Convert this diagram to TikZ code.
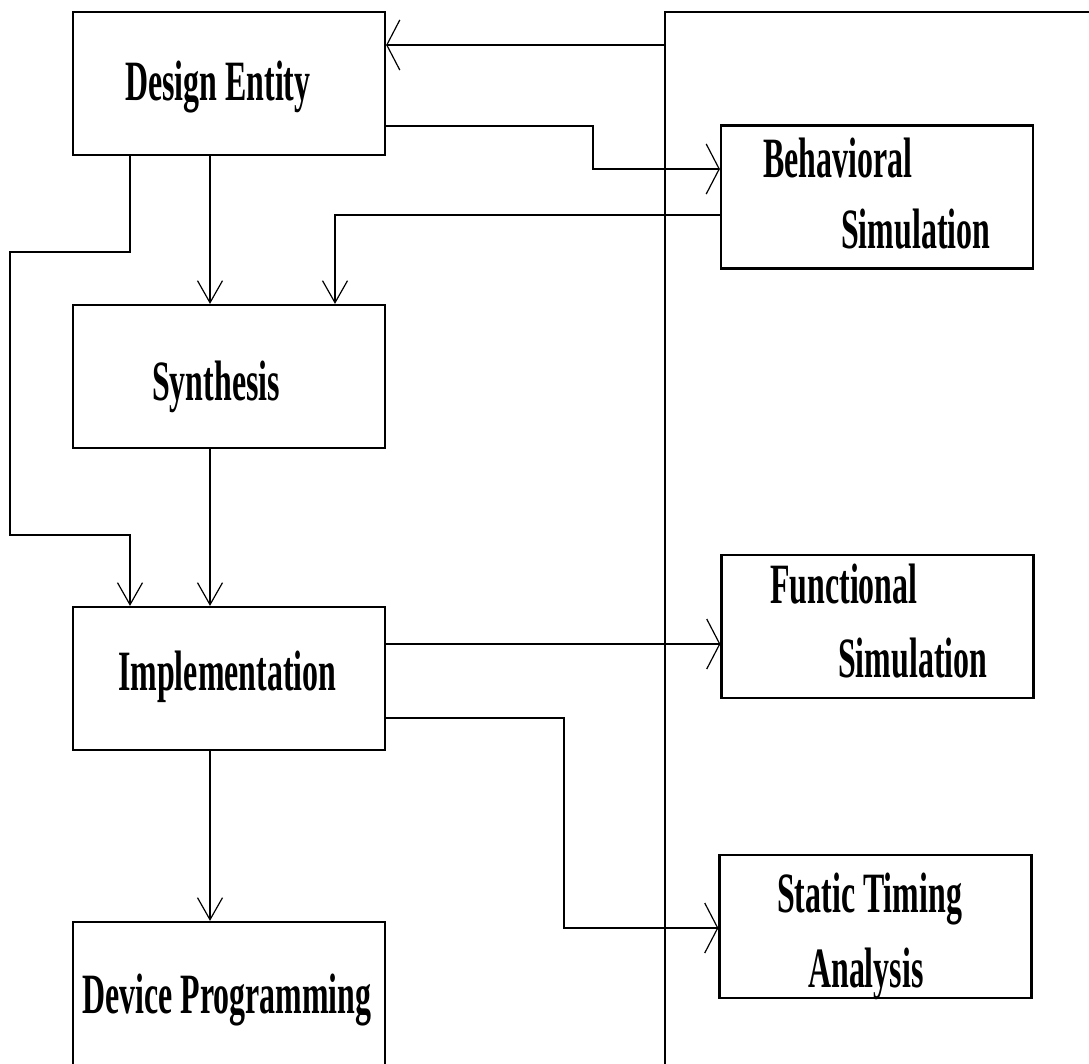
\documentclass[tikz,border=0pt]{standalone}
\usepackage{fontspec}
\newfontfamily\boxfont[FakeStretch=0.56]{Liberation Serif}
\usetikzlibrary{arrows.meta}

\tikzset{
  block/.style={draw, line width=2.2pt, rectangle, minimum width=312pt, minimum height=143pt, inner sep=0pt},
  lbl/.style={anchor=base west, inner sep=0pt, font=\boxfont\bfseries\fontsize{57}{68}\selectfont},
  wire/.style={line width=2pt},
  harrow/.style={wire, -{Straight Barb[length=13pt, width=50pt, line width=1.2pt]}},
  varrow/.style={wire, -{Straight Barb[length=22pt, width=25pt, line width=1.2pt]}}
}

\begin{document}
\begin{tikzpicture}[x=1pt, y=-1pt]
  \clip (0,0) rectangle (1089,1063);
  \fill[white] (0,0) rectangle (1089,1063);

  % process blocks
  \node[block] (de)  at (229,83.5)  {};
  \node[block] (syn) at (229,376.5) {};
  \node[block] (imp) at (229,678.5) {};
  \node[block, minimum height=170pt] (dev) at (229,1007) {};
  \node[block] (beh) at (877,197)   {};
  \node[block] (fun) at (877.5,626.5) {};
  \node[block] (sta) at (875.5,926.5) {};

  % block captions
  \node[lbl] (tde)  at (125,100)  {Design Entity};
  \node[lbl] (tsyn) at (152,400)  {Synthesis};
  \node[lbl] (timp) at (118,690)  {Implementation};
  \node[lbl] (tdev) at (82,1013)  {Device Programming};
  \node[lbl] (tbe1) at (763,177)  {Behavioral};
  \node[lbl] (tbe2) at (841,248)  {Simulation};
  \node[lbl] (tfu1) at (770,603)  {Functional};
  \node[lbl] (tfu2) at (838,677)  {Simulation};
  \node[lbl] (tst1) at (777,912)  {Static Timing};
  \node[lbl] (tst2) at (808,987)  {Analysis};

  % feedback frame on the right
  \coordinate (fb)  at (665,1080);
  \coordinate (fc)  at (665,12);
  \coordinate (fe)  at (1100,12);
  \coordinate (ft)  at (665,45);
  \draw[wire] (fb) -- (fc) -- (fe);
  \draw[harrow] (ft) -- (de.east |- ft);

  % design entity outputs
  \draw[harrow] (de.east |- 0,126) -| (593,169) -- (beh.west |- 0,169);
  \draw[varrow] (de.south -| 210,0) -- (syn.north -| 210,0);
  \draw[varrow] (de.south -| 130,0) |- (10,252) |- (130,535) -- (imp.north -| 130,0);

  % behavioral simulation back to synthesis
  \draw[varrow] (beh.west |- 0,215) -| (syn.north -| 335,0);

  % synthesis to implementation
  \draw[varrow] (syn.south -| 210,0) -- (imp.north -| 210,0);

  % implementation outputs
  \draw[harrow] (imp.east |- 0,644) -- (fun.west |- 0,644);
  \draw[harrow] (imp.east |- 0,718) -| (564,928) -- (sta.west |- 0,928);
  \draw[varrow] (imp.south -| 210,0) -- (dev.north -| 210,0);
\end{tikzpicture}
\end{document}
